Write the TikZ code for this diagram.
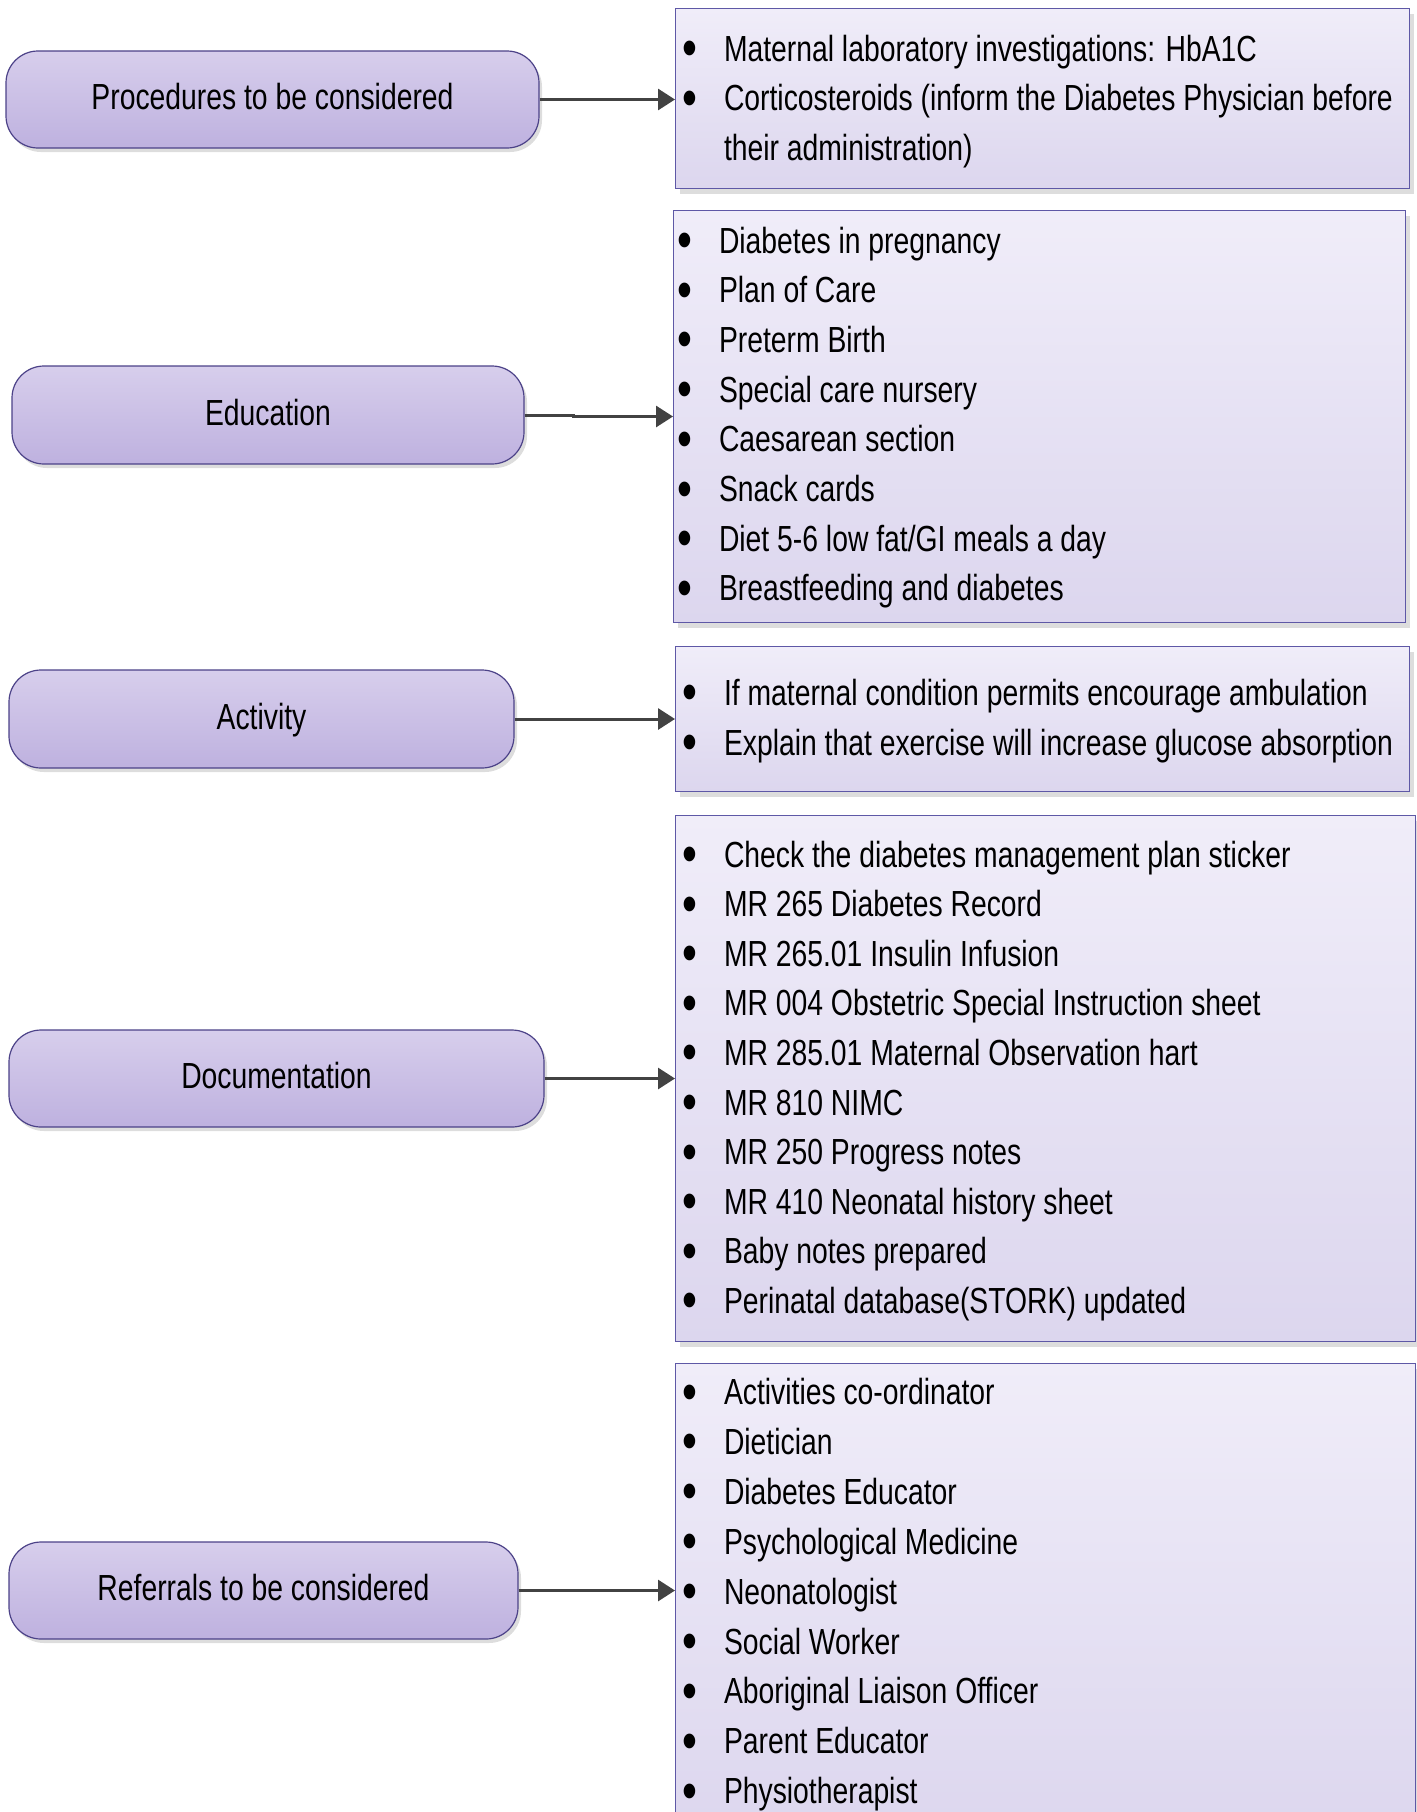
\documentclass[tikz,border=0pt]{standalone}
\usepackage{fontspec}
\setmainfont[FakeStretch=0.78]{Liberation Sans}
\usetikzlibrary{arrows.meta,shadows}

\definecolor{pilltop}{HTML}{D7CEEC}
\definecolor{pillbot}{HTML}{BEB1DF}
\definecolor{pillline}{HTML}{4C4288}
\definecolor{boxtop}{HTML}{F0EDF9}
\definecolor{boxbot}{HTML}{DCD6EE}
\definecolor{boxline}{HTML}{5E58A6}
\definecolor{shade}{HTML}{DDDDDD}
\definecolor{connline}{HTML}{424242}

\newcommand{\bul}{\makebox[42pt][l]{\raisebox{-5.5pt}{\scalebox{1.5}{\textbullet}}}}

\tikzset{
  every node/.style={font=\fontsize{36.3}{49.7}\selectfont},
  pill/.style={draw=pillline, line width=1.2pt, rounded corners=32pt,
    top color=pilltop, bottom color=pillbot, inner sep=0pt,
    text height=27pt, text depth=7pt,
    drop shadow={shadow xshift=3pt, shadow yshift=-4pt, fill=shade, opacity=1}},
  listbox/.style={draw=boxline, line width=1.4pt, rectangle, anchor=north west,
    top color=boxtop, bottom color=boxbot, inner sep=0pt,
    drop shadow={shadow xshift=4pt, shadow yshift=-5pt, fill=shade, opacity=1}},
  item/.style={anchor=base west, inner sep=0pt, outer sep=0pt},
  conn/.style={draw=connline, line width=3pt,
    -{Triangle[length=17pt, width=21pt]}},
}

\begin{document}
\begin{tikzpicture}[x=1pt, y=-1pt]
\useasboundingbox (0,0) rectangle (1416,1812);

% category pills
\node[pill, minimum width=533pt, minimum height=97pt] (proc) at (272.5,99.5) {Procedures to be considered};
\node[pill, minimum width=512pt, minimum height=98pt] (edu)  at (268,415) {Education};
\node[pill, minimum width=505pt, minimum height=98pt] (act)  at (261.5,719) {Activity};
\node[pill, minimum width=535pt, minimum height=97pt] (doc)  at (276.5,1078.5) {Documentation};
\node[pill, minimum width=509pt, minimum height=97pt] (ref)  at (263.5,1590.5) {Referrals to be considered};

% list boxes
\node[listbox, minimum width=734pt, minimum height=180pt] (box1) at (675,8) {};
\node[listbox, minimum width=732pt, minimum height=412pt] (box2) at (673,210) {};
\node[listbox, minimum width=734pt, minimum height=145pt] (box3) at (675,646) {};
\node[listbox, minimum width=740pt, minimum height=526pt] (box4) at (675,815) {};
\node[listbox, minimum width=740pt, minimum height=480pt] (box5) at (675,1363) {};

% procedures
\node[item] (proc-0) at (682,61) {\bul Maternal laboratory investigations: HbA1C};
\node[item] (proc-1) at (682,110.7) {\bul Corticosteroids (inform the Diabetes Physician before};
\node[item] (proc-2) at (724,160.4) {their administration)};

% education
\foreach \t [count=\i from 0] in {Diabetes in pregnancy, Plan of Care, Preterm Birth,
  Special care nursery, Caesarean section, Snack cards,
  Diet 5-6 low fat/GI meals a day, Breastfeeding and diabetes}
  \node[item] (edu-\i) at (677,{253+49.7*\i}) {\bul\t};

% activity
\node[item] (act-0) at (682,705) {\bul If maternal condition permits encourage ambulation};
\node[item] (act-1) at (682,755) {\bul Explain that exercise will increase glucose absorption};

% documentation
\foreach \t [count=\i from 0] in {Check the diabetes management plan sticker,
  MR 265 Diabetes Record, MR 265.01 Insulin Infusion,
  MR 004 Obstetric Special Instruction sheet,
  MR 285.01 Maternal Observation hart, MR 810 NIMC,
  MR 250 Progress notes, MR 410 Neonatal history sheet,
  Baby notes prepared, Perinatal database(STORK) updated}
  \node[item] (doc-\i) at (682,{867+49.6*\i}) {\bul\t};

% referrals
\foreach \t [count=\i from 0] in {Activities co-ordinator, Dietician,
  Diabetes Educator, Psychological Medicine, Neonatologist, Social Worker,
  Aboriginal Liaison Officer, Parent Educator, Physiotherapist}
  \node[item] (ref-\i) at (682,{1404.5+49.9*\i}) {\bul\t};

% connectors
\coordinate (edu-step) at (573,416.5);
\draw[conn] (proc.east) -- (proc.east -| box1.west);
\draw[conn] (edu.east) -- (edu-step |- edu.east) -- (edu-step) -- (edu-step -| box2.west);
\draw[conn] (act.east) -- (act.east -| box3.west);
\draw[conn] (doc.east) -- (doc.east -| box4.west);
\draw[conn] (ref.east) -- (ref.east -| box5.west);
\end{tikzpicture}
\end{document}
